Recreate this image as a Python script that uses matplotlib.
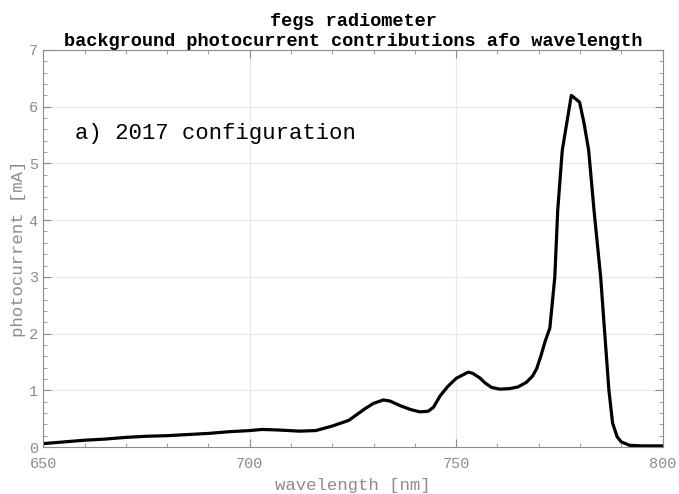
import numpy as np
import matplotlib
matplotlib.use("Agg")
import matplotlib.pyplot as plt
from matplotlib.ticker import MultipleLocator

# wavelength [nm] and photocurrent [mA]
wavelength = [650, 655, 660, 665, 670, 675, 680, 685, 690, 695, 700, 703, 707,
              712, 716, 720, 724, 728, 730, 732.4, 734, 736.4, 739, 741.2, 743.2,
              744.5, 746.1, 748, 750, 752.9, 754, 755.7, 757, 758.6, 760.6, 763,
              765, 767, 768.5, 769.5, 770.5, 771.5, 772.7, 773.9, 774.6, 775.7,
              777.9, 779.9, 781, 782.1, 783.4, 785, 786, 787, 787.9, 789, 790,
              792, 795, 800]
current = [0.06, 0.09, 0.12, 0.14, 0.17, 0.19, 0.2, 0.22, 0.24, 0.27, 0.29, 0.31, 0.3,
           0.28, 0.29, 0.37, 0.47, 0.68, 0.77, 0.83, 0.81, 0.73, 0.66, 0.62, 0.63,
           0.7, 0.9, 1.07, 1.21, 1.32, 1.3, 1.22, 1.13, 1.05, 1.02, 1.03,
           1.06, 1.14, 1.25, 1.38, 1.6, 1.85, 2.1, 3.0, 4.17, 5.23,
           6.2, 6.08, 5.7, 5.23, 4.17, 3.0, 2.0, 1.0, 0.42, 0.18, 0.09,
           0.03, 0.02, 0.02]

grey = "#8c8c8c"
mono = "Liberation Mono"

fig = plt.figure(figsize=(6.79, 4.94), dpi=100)
ax = fig.add_axes([0.0638, 0.0951, 0.912, 0.8037])

ax.plot(wavelength, current, color="black", lw=2.3, solid_joinstyle="round")

ax.set_xlim(650, 800)
ax.set_ylim(0, 7)
ax.xaxis.set_major_locator(MultipleLocator(50))
ax.xaxis.set_minor_locator(MultipleLocator(10))
ax.yaxis.set_major_locator(MultipleLocator(1))
ax.yaxis.set_minor_locator(MultipleLocator(0.2))
ax.grid(True, which="major", color="#e8e8e8", lw=0.8)
ax.tick_params(which="both", direction="in", top=True, right=True,
               color=grey, labelcolor=grey, labelsize=11)
ax.tick_params(which="major", length=6)
ax.tick_params(which="minor", length=3)
ax.tick_params(axis="x", pad=7)
ax.tick_params(axis="y", pad=4)
for lab in ax.get_xticklabels() + ax.get_yticklabels():
    lab.set_family(mono)
for s in ax.spines.values():
    s.set_color(grey)

ax.set_xlabel("wavelength [nm]", family=mono, color=grey, fontsize=12.5, labelpad=5)
ax.set_ylabel("photocurrent [mA]", family=mono, color=grey, fontsize=12.5, labelpad=2)
ax.set_title("fegs radiometer\nbackground photocurrent contributions afo wavelength",
             family=mono, fontweight="bold", fontsize=13.4, linespacing=1.2, pad=2)

ax.text(657.7, 5.53, "a) 2017 configuration", family=mono, fontsize=16,
        va="center", ha="left")

fig.savefig("out.png", dpi=100)
